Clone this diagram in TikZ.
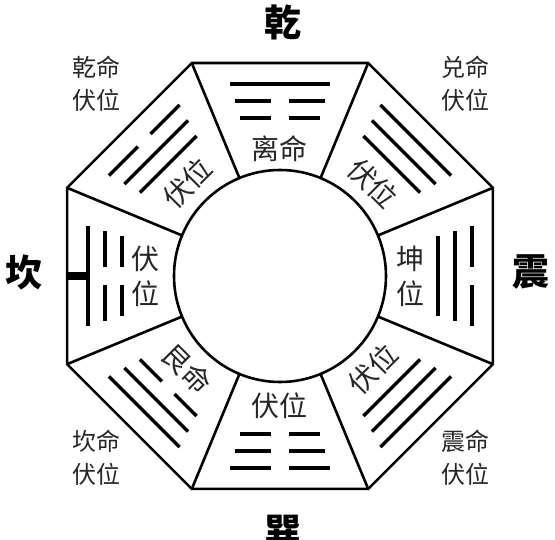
\documentclass[tikz,border=0pt]{standalone}
\usepackage{fontspec}
\newfontfamily\cjk{Noto Sans CJK SC}

\begin{document}
\begin{tikzpicture}[x=1pt, y=1pt,
    frame/.style={line width=2.6pt, line join=miter},
    yao/.style={line width=3.4pt},
    gua/.style={font=\cjk\bfseries\fontsize{37}{37}\selectfont, text=black},
    ming/.style={font=\cjk\fontsize{24}{33}\selectfont, align=center, text=black!85},
    wei/.style={font=\cjk\fontsize{28}{35}\selectfont, align=center,
        inner sep=0pt, text=black!85}
]
    \useasboundingbox (-280,-264) rectangle (275,276);

    % octagon, spokes and centre circle
    \draw[frame] (22.5:230.5) \foreach \a in {67.5,112.5,...,337.5} {-- (\a:230.5)} -- cycle;
    \foreach \a in {22.5,67.5,...,337.5}
        \draw[frame] (\a:106) -- (\a:230.5);
    \draw[frame, fill=white] (0,0) circle (106);

    % trigrams, inner/middle/outer line (1 = solid, 0 = broken)
    \foreach \ang/\pa/\pb/\pc in {90/0/0/1, 45/1/1/1, 0/1/1/0, -45/1/1/1,
                                  -90/0/0/0, -135/0/1/1, 180/0/0/1, 135/1/1/0} {
        \begin{scope}[rotate=\ang-90]
            \foreach \r/\h/\s in {158/40/\pa, 175/45/\pb, 192/50/\pc} {
                \ifnum\s=1
                    \draw[yao] (-\h,\r) -- (\h,\r);
                \else
                    \draw[yao] (-\h,\r) -- (-9,\r) (9,\r) -- (\h,\r);
                \fi
            }
        \end{scope}
    }
    \fill (-212,-4) rectangle (-190,4);

    % sector texts
    \node[wei] (li) at (90:127) {离命};
    \node[wei, rotate=-45] (dui) at (45:131) {伏位};
    \node[wei] (kun) at (0:131) {坤\\位};
    \node[wei, rotate=45] (zhen) at (-45:131) {伏位};
    \node[wei] (xun) at (-90:130) {伏位};
    \node[wei, rotate=-45] (gen) at (-135:131) {艮命};
    \node[wei] (kan) at (180:134) {伏\\位};
    \node[wei, rotate=45] (qian) at (135:131) {伏位};

    % corner texts
    \node[ming] (qianming) at (-183,192) {乾命\\伏位};
    \node[ming] (duiming) at (186,192) {兑命\\伏位};
    \node[ming] (kanming) at (-183,-182) {坎命\\伏位};
    \node[ming] (zhenming) at (186,-182) {震命\\伏位};

    % outer names
    \node[gua] (n) at (3,254) {乾};
    \node[gua] (w) at (-256,4) {坎};
    \node[gua] (e) at (251,4) {震};
    \node[gua] (s) at (3,-256) {巽};
\end{tikzpicture}
\end{document}
